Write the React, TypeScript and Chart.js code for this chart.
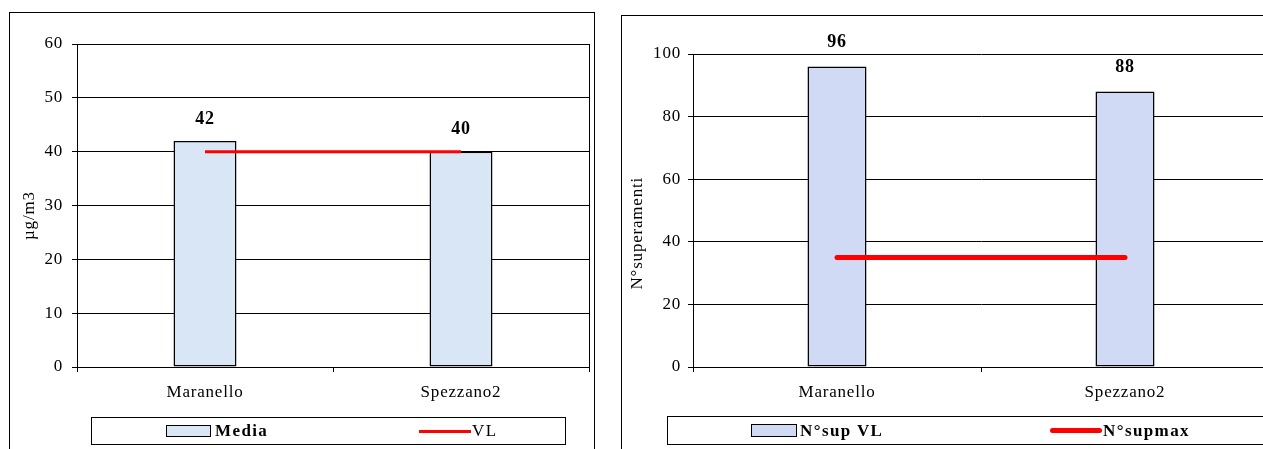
import React, { useEffect, useRef } from 'react';
import { Chart, registerables } from 'chart.js';

Chart.register(...registerables);

const categories = ['Maranello', 'Spezzano2'];
const mediaValues = [42, 40];
const vlValues = [40, 40];
const supValues = [96, 88];
const supMaxValues = [35, 35];
const leftTicks = [0, 10, 20, 30, 40, 50, 60];
const rightTicks = [0, 20, 40, 60, 80, 100];
const leftLegend = ['Media', 'VL'];
const rightLegend = ['N°sup VL', 'N°supmax'];
const leftYTitle = 'µg/m3';
const rightYTitle = 'N°superamenti';

const FONT = '"Liberation Serif", "Times New Roman", Times, serif';
const NB = '\u00a0';

const valueLabels = {
  id: 'valueLabels',
  afterDatasetsDraw(chart: any, _args: any, opts: any) {
    const meta = chart.getDatasetMeta(0);
    const ctx = chart.ctx;
    ctx.save();
    ctx.letterSpacing = '0.8px';
    ctx.font = `bold 18px ${FONT}`;
    ctx.fillStyle = '#000';
    ctx.textAlign = 'center';
    ctx.textBaseline = 'middle';
    meta.data.forEach((el: any, i: number) => {
      const v = chart.data.datasets[0].data[i];
      ctx.fillText(String(v), el.x, el.y - (opts.offset || 22));
    });
    ctx.restore();
  },
};

const areaBorder = {
  id: 'areaBorder',
  beforeDraw(chart: any) {
    chart.ctx.letterSpacing = '0.8px';
  },
  afterDraw(chart: any) {
    const { ctx, chartArea: a } = chart;
    ctx.save();
    ctx.strokeStyle = '#000';
    ctx.lineWidth = 1;
    const x = Math.round(a.right) + 0.5;
    ctx.beginPath();
    ctx.moveTo(x, a.top);
    ctx.lineTo(x, a.bottom);
    ctx.stroke();
    ctx.restore();
  },
};

function makeConfig(o: {
  barLabel: string;
  barData: number[];
  lineLabel: string;
  lineData: number[];
  barColor: string;
  barPct: number;
  lineWidth: number;
  cap: string;
  max: number;
  ticks: number[];
  yTitle: string;
  yWidth: number;
  tickPad: number;
  titlePad: number;
  padTop: number;
  padRight: number;
  labelOffset: number;
}): any {
  return {
    type: 'bar',
    data: {
      labels: categories,
      datasets: [
        {
          type: 'bar',
          label: o.barLabel,
          data: o.barData,
          backgroundColor: o.barColor,
          borderColor: '#000',
          borderWidth: 1.5,
          borderSkipped: false,
          barPercentage: o.barPct,
          categoryPercentage: 1,
          order: 1,
        },
        {
          type: 'line',
          label: o.lineLabel,
          data: o.lineData,
          borderColor: '#ff0000',
          backgroundColor: '#ff0000',
          borderWidth: o.lineWidth,
          borderCapStyle: o.cap,
          pointRadius: 0,
          fill: false,
          order: 0,
        },
      ],
    },
    options: {
      responsive: false,
      animation: false,
      devicePixelRatio: 1,
      layout: { padding: { top: o.padTop, right: o.padRight, left: 0, bottom: 0 } },
      plugins: {
        legend: { display: false },
        tooltip: { enabled: false },
        valueLabels: { offset: o.labelOffset },
      },
      scales: {
        x: {
          type: 'category',
          offset: true,
          grid: {
            display: true,
            drawOnChartArea: false,
            drawTicks: true,
            tickLength: 5,
            color: '#000',
            offset: true,
          },
          border: { display: true, color: '#000', width: 1 },
          ticks: {
            font: { family: FONT, size: 17 },
            color: '#000',
            padding: 10,
            maxRotation: 0,
            autoSkip: false,
          },
          afterFit: (s: any) => {
            s.height = 82;
          },
        },
        y: {
          min: 0,
          max: o.max,
          afterBuildTicks: (s: any) => {
            s.ticks = o.ticks.map((v) => ({ value: v }));
          },
          grid: { color: '#000', lineWidth: 1, tickLength: 5, drawTicks: true },
          border: { display: true, color: '#000', width: 1 },
          ticks: {
            font: { family: FONT, size: 17 },
            color: '#000',
            padding: o.tickPad,
          },
          title: {
            display: true,
            text: o.yTitle,
            font: { family: FONT, size: 17 },
            color: '#000',
            padding: { top: o.titlePad, bottom: 0 },
          },
          afterFit: (s: any) => {
            s.width = o.yWidth;
          },
        },
      },
    },
    plugins: [valueLabels, areaBorder],
  };
}

function ChartCanvas(props: { left: number; top: number; width: number; height: number; config: () => any }) {
  const ref = useRef<HTMLCanvasElement>(null);
  useEffect(() => {
    const chart = new Chart(ref.current as HTMLCanvasElement, props.config());
    return () => chart.destroy();
  }, []);
  return (
    <canvas
      ref={ref}
      width={props.width}
      height={props.height}
      style={{
        position: 'absolute',
        left: props.left,
        top: props.top,
        width: props.width,
        height: props.height,
        display: 'block',
      }}
    />
  );
}

const legendText: React.CSSProperties = {
  position: 'absolute',
  top: 421,
  height: 20,
  lineHeight: '20px',
  fontFamily: FONT,
  fontSize: 17,
  letterSpacing: '1.4px',
  color: '#000',
  whiteSpace: 'nowrap',
};

export default function App() {
  const leftCfg = () =>
    makeConfig({
      barLabel: leftLegend[0],
      barData: mediaValues,
      lineLabel: leftLegend[1],
      lineData: vlValues,
      barColor: '#d9e6f5',
      barPct: 0.246,
      lineWidth: 3,
      cap: 'butt',
      max: 60,
      ticks: leftTicks,
      yTitle: leftYTitle + NB.repeat(4),
      yWidth: 68,
      tickPad: 9,
      titlePad: 10,
      padTop: 32,
      padRight: 6,
      labelOffset: 22,
    });
  const rightCfg = () =>
    makeConfig({
      barLabel: rightLegend[0],
      barData: supValues,
      lineLabel: rightLegend[1],
      lineData: supMaxValues,
      barColor: '#d0daf5',
      barPct: 0.205,
      lineWidth: 5,
      cap: 'round',
      max: 100,
      ticks: rightTicks,
      yTitle: rightYTitle + NB.repeat(9),
      yWidth: 72,
      tickPad: 7,
      titlePad: 6,
      padTop: 39,
      padRight: 12,
      labelOffset: 24,
    });

  return (
    <div
      style={{
        position: 'absolute',
        left: 0,
        top: 0,
        width: 1263,
        height: 449,
        overflow: 'hidden',
        background: '#fff',
      }}
    >
      <div
        style={{
          position: 'absolute',
          left: 9,
          top: 12,
          width: 586,
          height: 460,
          border: '1px solid #000',
          boxSizing: 'border-box',
        }}
      />
      <div
        style={{
          position: 'absolute',
          left: 621,
          top: 15,
          width: 700,
          height: 460,
          border: '1px solid #000',
          boxSizing: 'border-box',
        }}
      />
      <ChartCanvas left={9} top={12} width={586} height={437} config={leftCfg} />
      <ChartCanvas left={621} top={15} width={660} height={434} config={rightCfg} />

      <div
        style={{
          position: 'absolute',
          left: 91,
          top: 417,
          width: 475,
          height: 28,
          border: '1px solid #000',
          boxSizing: 'border-box',
        }}
      />
      <div
        style={{
          position: 'absolute',
          left: 166,
          top: 425,
          width: 45,
          height: 12,
          background: '#d9e6f5',
          border: '1.5px solid #000',
          boxSizing: 'border-box',
        }}
      />
      <div style={{ ...legendText, left: 215, fontWeight: 'bold' }}>{leftLegend[0]}</div>
      <div
        style={{
          position: 'absolute',
          left: 419,
          top: 430,
          width: 52,
          height: 3,
          background: '#ff0000',
        }}
      />
      <div style={{ ...legendText, left: 472 }}>{leftLegend[1]}</div>

      <div
        style={{
          position: 'absolute',
          left: 667,
          top: 416,
          width: 700,
          height: 29,
          border: '1px solid #000',
          boxSizing: 'border-box',
        }}
      />
      <div
        style={{
          position: 'absolute',
          left: 751,
          top: 424,
          width: 46,
          height: 13,
          background: '#d0daf5',
          border: '1.5px solid #000',
          boxSizing: 'border-box',
        }}
      />
      <div style={{ ...legendText, left: 800, fontWeight: 'bold' }}>{rightLegend[0]}</div>
      <div
        style={{
          position: 'absolute',
          left: 1050,
          top: 428,
          width: 52,
          height: 5,
          borderRadius: 3,
          background: '#ff0000',
        }}
      />
      <div style={{ ...legendText, left: 1103, fontWeight: 'bold' }}>{rightLegend[1]}</div>
    </div>
  );
}
